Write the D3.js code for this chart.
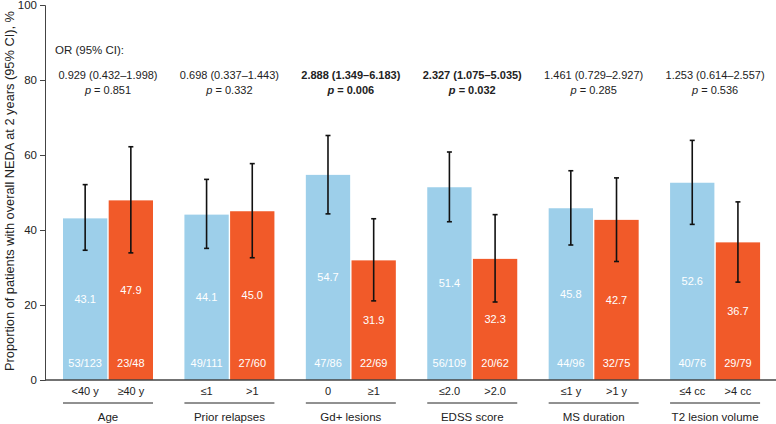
<!DOCTYPE html>
<html>
<head>
<meta charset="utf-8">
<script src="https://cdn.jsdelivr.net/npm/d3@7"></script>
<style>
  html, body { margin: 0; padding: 0; background: #fff; }
  svg { display: block; font-family: "Liberation Sans", Arial, Helvetica, sans-serif; }
</style>
</head>
<body>
<svg id="chart" width="776" height="424"></svg>
<script>
// ---- Data ----
const groups = ["Age", "Prior relapses", "Gd+ lesions", "EDSS score", "MS duration", "T2 lesion volume"];
const subLabelsA = ["<40 y", "≤1", "0", "≤2.0", "≤1 y", "≤4 cc"];
const subLabelsB = ["≥40 y", ">1", "≥1", ">2.0", ">1 y", ">4 cc"];
const valuesA = [43.1, 44.1, 54.7, 51.4, 45.8, 52.6];
const valuesB = [47.9, 45.0, 31.9, 32.3, 42.7, 36.7];
const ciLowA  = [34.6, 35.1, 44.3, 42.2, 36.0, 41.5];
const ciHighA = [52.1, 53.5, 65.2, 60.8, 55.8, 63.9];
const ciLowB  = [33.9, 32.6, 21.1, 20.8, 31.6, 26.1];
const ciHighB = [62.2, 57.7, 43.0, 44.1, 53.9, 47.5];
const countsA = ["53/123", "49/111", "47/86", "56/109", "44/96", "40/76"];
const countsB = ["23/48", "27/60", "22/69", "20/62", "32/75", "29/79"];
const orTexts = ["0.929 (0.432–1.998)", "0.698 (0.337–1.443)", "2.888 (1.349–6.183)", "2.327 (1.075–5.035)", "1.461 (0.729–2.927)", "1.253 (0.614–2.557)"];
const pTexts = ["0.851", "0.332", "0.006", "0.032", "0.285", "0.536"];
const significant = [false, false, true, true, false, false];
const yTicks = [0, 20, 40, 60, 80, 100];

// ---- Layout ----
const svg = d3.select("#chart");
const colorA = "#9dcfea", colorB = "#f15a29";
const axisColor = "#444";

const y = d3.scaleLinear().domain([0, 100]).range([380, 5]);
const x0 = d3.scaleBand().domain(groups).range([47.5, 776]).padding(0);
const x1 = d3.scaleBand().domain(["A", "B"]).range([15.5, 105.5]).paddingInner(0.03);

const rows = groups.map((g, i) => ([
  { g, k: "A", v: valuesA[i], lo: ciLowA[i], hi: ciHighA[i], n: countsA[i], sub: subLabelsA[i], c: colorA },
  { g, k: "B", v: valuesB[i], lo: ciLowB[i], hi: ciHighB[i], n: countsB[i], sub: subLabelsB[i], c: colorB }
])).flat();

const groupCenter = g => x0(g) + x1("A") + (x1("B") + x1.bandwidth() - x1("A")) / 2;

// bars
svg.append("g").selectAll("rect").data(rows).join("rect")
  .attr("x", d => x0(d.g) + x1(d.k))
  .attr("y", d => y(d.v))
  .attr("width", x1.bandwidth())
  .attr("height", d => y(0) - y(d.v))
  .attr("fill", d => d.c);

// value labels
svg.append("g").selectAll("text").data(rows).join("text")
  .attr("x", d => x0(d.g) + x1(d.k) + x1.bandwidth() / 2)
  .attr("y", d => y(d.v / 2))
  .attr("dy", "0.35em")
  .attr("text-anchor", "middle")
  .attr("font-size", 11)
  .attr("fill", "#fff")
  .text(d => d.v.toFixed(1));

// count labels
svg.append("g").selectAll("text").data(rows).join("text")
  .attr("x", d => x0(d.g) + x1(d.k) + x1.bandwidth() / 2)
  .attr("y", 363)
  .attr("dy", "0.35em")
  .attr("text-anchor", "middle")
  .attr("font-size", 11)
  .attr("fill", "#fff")
  .text(d => d.n);

// error bars
const eb = svg.append("g").attr("stroke", "#111").attr("stroke-width", 1.6);
rows.forEach(d => {
  const cx = x0(d.g) + x1(d.k) + x1.bandwidth() / 2;
  eb.append("line").attr("x1", cx).attr("x2", cx).attr("y1", y(d.lo)).attr("y2", y(d.hi));
  eb.append("line").attr("x1", cx - 2.5).attr("x2", cx + 2.5).attr("y1", y(d.lo)).attr("y2", y(d.lo));
  eb.append("line").attr("x1", cx - 2.5).attr("x2", cx + 2.5).attr("y1", y(d.hi)).attr("y2", y(d.hi));
});

// y axis
const yAxis = svg.append("g").attr("transform", "translate(45,0)")
  .call(d3.axisLeft(y).tickValues(yTicks).tickSize(5).tickPadding(3));
yAxis.select(".domain").attr("stroke", axisColor);
yAxis.selectAll(".tick line").attr("stroke", axisColor);
yAxis.selectAll(".tick text").attr("font-size", 11.5).attr("fill", "#222")
  .attr("font-family", "Liberation Sans, Arial, sans-serif");

// baseline
svg.append("line").attr("x1", 45).attr("x2", 776).attr("y1", y(0)).attr("y2", y(0))
  .attr("stroke", axisColor).attr("stroke-width", 1.5);

// y title
svg.append("text")
  .attr("transform", "translate(14,191) rotate(-90)")
  .attr("text-anchor", "middle")
  .attr("font-size", 12.8)
  .attr("fill", "#222")
  .text("Proportion of patients with overall NEDA at 2 years (95% CI), %");

// sub labels
svg.append("g").selectAll("text").data(rows).join("text")
  .attr("x", d => x0(d.g) + x1(d.k) + x1.bandwidth() / 2)
  .attr("y", 391)
  .attr("dy", "0.35em")
  .attr("text-anchor", "middle")
  .attr("font-size", 11)
  .attr("fill", "#222")
  .text(d => d.sub);

// group underline and labels
const gg = svg.append("g").selectAll("g").data(groups).join("g");
gg.append("line")
  .attr("x1", d => x0(d) + x1("A"))
  .attr("x2", d => x0(d) + x1("B") + x1.bandwidth())
  .attr("y1", 403).attr("y2", 403)
  .attr("stroke", "#222").attr("stroke-width", 1);
gg.append("text")
  .attr("x", d => groupCenter(d))
  .attr("y", 417)
  .attr("dy", "0.35em")
  .attr("text-anchor", "middle")
  .attr("font-size", 11.5)
  .attr("fill", "#222")
  .text(d => d);

// OR header
svg.append("text").attr("x", 55).attr("y", 50).attr("dy", "0.35em")
  .attr("font-size", 11.5).attr("fill", "#222").text("OR (95% CI):");

// OR / p texts
groups.forEach((g, i) => {
  const cx = groupCenter(g);
  const w = significant[i] ? "bold" : "normal";
  svg.append("text").attr("x", cx).attr("y", 75).attr("dy", "0.35em")
    .attr("text-anchor", "middle").attr("font-size", 11).attr("font-weight", w)
    .attr("fill", "#222").text(orTexts[i]);
  const t = svg.append("text").attr("x", cx).attr("y", 90).attr("dy", "0.35em")
    .attr("text-anchor", "middle").attr("font-size", 11).attr("font-weight", w)
    .attr("fill", "#222");
  t.append("tspan").attr("font-style", "italic").text("p");
  t.append("tspan").text(" = " + pTexts[i]);
});
</script>
</body>
</html>
